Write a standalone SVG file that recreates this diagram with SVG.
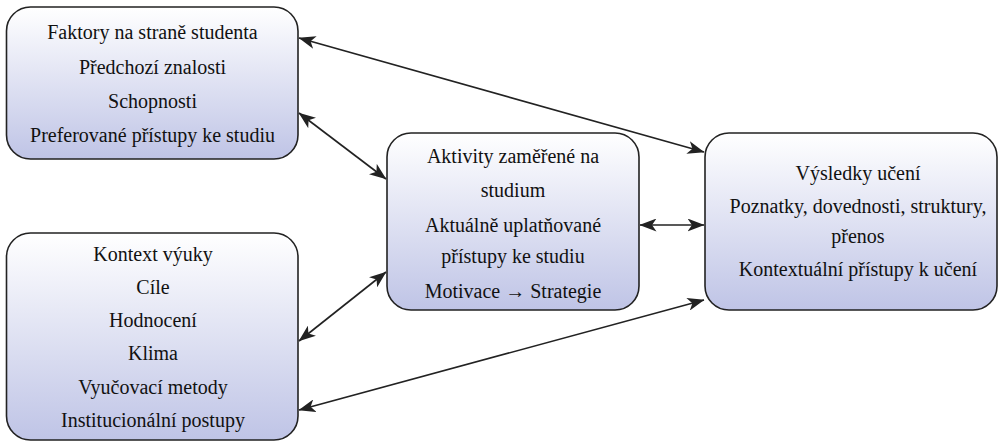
<svg xmlns="http://www.w3.org/2000/svg" width="1003" height="446" viewBox="0 0 1003 446">
<defs>
<linearGradient id="g" x1="0" y1="0" x2="0" y2="1">
<stop offset="0" stop-color="#ffffff"/>
<stop offset="1" stop-color="#bfc4e6"/>
</linearGradient>
<marker id="a" viewBox="0 0 17 13" refX="16.5" refY="6.5" markerWidth="17" markerHeight="13" markerUnits="userSpaceOnUse" orient="auto-start-reverse">
<path d="M0,0 L17,6.5 L0,13 L4.5,6.5 Z" fill="#222"/>
</marker>
<style>
.box{fill:url(#g);stroke:#222;stroke-width:1.6}
.t{font-family:"Liberation Serif","Times New Roman",serif;font-size:20px;fill:#111;text-anchor:middle}
.c line{stroke:#222;stroke-width:1.6;marker-start:url(#a);marker-end:url(#a)}
</style>
</defs>
<rect width="1003" height="446" fill="#fff"/>
<g id="student" class="t">
<rect class="box" x="6.5" y="7" width="291.5" height="152" rx="24"/>
<text x="152.5" y="39">Faktory na straně studenta</text>
<text x="152.5" y="74">Předchozí znalosti</text>
<text x="152.5" y="108">Schopnosti</text>
<text x="152.5" y="142">Preferované přístupy ke studiu</text>
</g>
<g id="kontext" class="t">
<rect class="box" x="6.5" y="233" width="291.5" height="207" rx="24"/>
<text x="153" y="261">Kontext výuky</text>
<text x="153" y="294">Cíle</text>
<text x="153" y="327">Hodnocení</text>
<text x="153" y="360">Klima</text>
<text x="153" y="394">Vyučovací metody</text>
<text x="153" y="427">Institucionální postupy</text>
</g>
<g id="aktivity" class="t">
<rect class="box" x="387" y="133" width="252" height="177" rx="24"/>
<text x="513" y="163">Aktivity zaměřené na</text>
<text x="513" y="197">studium</text>
<text x="513" y="232">Aktuálně uplatňované</text>
<text x="513" y="263">přístupy ke studiu</text>
<text x="513" y="298">Motivace → Strategie</text>
</g>
<g id="vysledky" class="t">
<rect class="box" x="705" y="133" width="292" height="177" rx="24"/>
<text x="858" y="180">Výsledky učení</text>
<text x="858" y="213">Poznatky, dovednosti, struktury,</text>
<text x="858" y="243">přenos</text>
<text x="858" y="276">Kontextuální přístupy k učení</text>
</g>
<g class="c" id="connectors">
<line x1="299" y1="38" x2="704" y2="152"/>
<line x1="299" y1="113" x2="386" y2="179"/>
<line x1="299" y1="341" x2="386" y2="272"/>
<line x1="299" y1="410" x2="704" y2="300"/>
<line x1="640" y1="225" x2="704" y2="225"/>
</g>
</svg>
